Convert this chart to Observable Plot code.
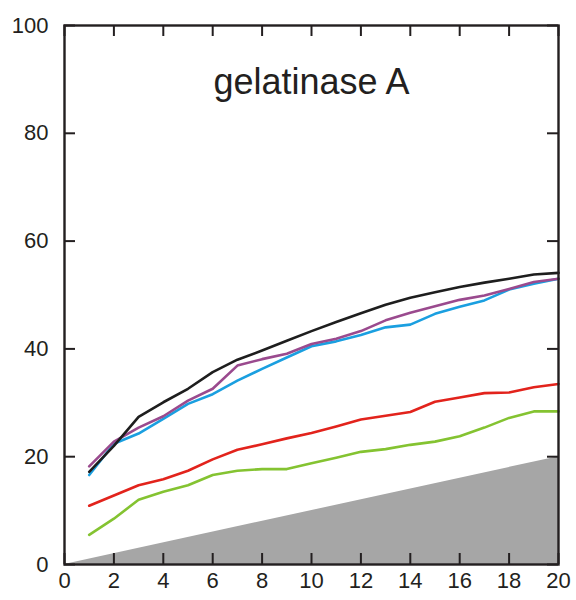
<!DOCTYPE html>
<html>
<head>
<meta charset="utf-8">
<script src="https://cdn.jsdelivr.net/npm/d3@7"></script>
<script src="https://cdn.jsdelivr.net/npm/@observablehq/plot@0.6"></script>
<style>
  html, body { margin: 0; padding: 0; background: #fff; }
  svg { display: block; }
</style>
</head>
<body>
<div id="chart"></div>
<script>
const title = "gelatinase A";
const xs = [1,2,3,4,5,6,7,8,9,10,11,12,13,14,15,16,17,18,19,20];
const black  = [17.2,22.0,27.4,30.1,32.6,35.7,38.0,39.7,41.5,43.3,45.0,46.6,48.2,49.5,50.5,51.5,52.3,53.0,53.8,54.1];
const purple = [18.2,22.8,25.4,27.5,30.4,32.6,36.9,38.1,39.1,40.9,41.9,43.3,45.3,46.7,47.9,49.1,49.9,51.1,52.4,53.0];
const blue   = [16.6,22.4,24.3,27.0,29.8,31.6,34.1,36.3,38.4,40.5,41.4,42.6,44.0,44.5,46.5,47.8,49.0,51.0,52.1,53.0];
const red    = [10.9,12.8,14.7,15.8,17.4,19.5,21.3,22.3,23.4,24.4,25.6,26.9,27.6,28.3,30.2,31.0,31.8,31.9,32.9,33.5];
const green  = [5.5,8.5,12.0,13.5,14.7,16.6,17.4,17.7,17.7,18.8,19.8,20.9,21.4,22.2,22.8,23.8,25.4,27.2,28.4,28.4];
const diagonal = [{x: 0, y: 0}, {x: 20, y: 20}];
const xTicks = [0,2,4,6,8,10,12,14,16,18,20];
const yTicks = [0,20,40,60,80,100];

const series = [
  {name: "black", values: black, color: "#1e1e1e"},
  {name: "purple", values: purple, color: "#9a4a8e"},
  {name: "blue", values: blue, color: "#1a9fe0"},
  {name: "red", values: red, color: "#e2231c"},
  {name: "green", values: green, color: "#84c331"}
];
const order = ["green", "red", "blue", "purple", "black"];
const rows = [];
for (const name of order) {
  const s = series.find(d => d.name === name);
  s.values.forEach((v, i) => rows.push({series: s.name, x: xs[i], y: v, color: s.color}));
}

const W = 576, H = 600;
const mL = 64, mR = 18, mT = 25, mB = 36;
const pxX = (W - mL - mR) / 20;   // px per x unit
const pxY = (H - mT - mB) / 100;  // px per y unit
const tickLen = 11;

const chart = Plot.plot({
  width: W,
  height: H,
  marginLeft: mL,
  marginRight: mR,
  marginTop: mT,
  marginBottom: mB,
  style: {fontFamily: "'Liberation Sans', Arial, sans-serif", background: "#fff", color: "#231f20", overflow: "visible"},
  x: {domain: [0, 20], ticks: xTicks, label: null},
  y: {domain: [0, 100], ticks: yTicks, label: null},
  marks: [
    Plot.areaY(diagonal, {x: "x", y: "y", fill: "#a6a6a6"}),
    Plot.line(rows, {x: "x", y: "y", z: "series", stroke: "color", strokeWidth: 2.6, strokeLinejoin: "round"}),
    // inward ticks
    Plot.ruleX(xTicks, {x: d => d, y1: 0, y2: tickLen / pxY, stroke: "#231f20", strokeWidth: 2}),
    Plot.ruleX(xTicks, {x: d => d, y1: 100, y2: 100 - tickLen / pxY, stroke: "#231f20", strokeWidth: 2}),
    Plot.ruleY(yTicks, {y: d => d, x1: 0, x2: tickLen / pxX, stroke: "#231f20", strokeWidth: 2}),
    Plot.ruleY(yTicks, {y: d => d, x1: 20, x2: 20 - tickLen / pxX, stroke: "#231f20", strokeWidth: 2}),
    Plot.frame({stroke: "#231f20", strokeWidth: 2.4}),
    Plot.axisX({ticks: xTicks, tickSize: 0, tickPadding: 8, fontSize: 22, fill: "#231f20", label: null}),
    Plot.axisY({ticks: yTicks, tickSize: 0, tickPadding: 16, fontSize: 22, fill: "#231f20", label: null}),
    Plot.text([title], {frameAnchor: "top", dy: 68, lineAnchor: "bottom", fontSize: 36, fill: "#231f20", text: d => d})
  ]
});
document.getElementById("chart").appendChild(chart);
</script>
</body>
</html>
